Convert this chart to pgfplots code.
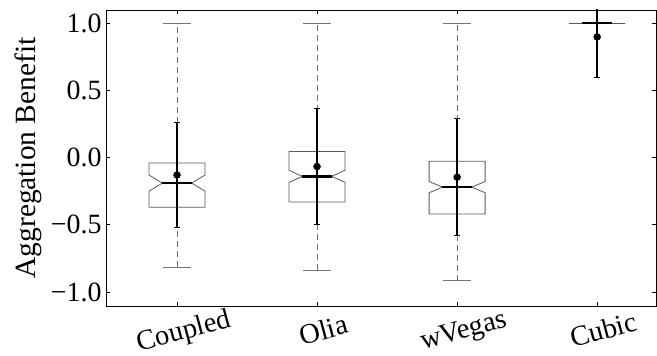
\documentclass[border=0pt]{standalone}
\usepackage{fontspec}
\setmainfont{Liberation Serif}
\usepackage{pgfplots}
\pgfplotsset{compat=1.18}
\definecolor{boxc}{gray}{0.35}
\definecolor{whc}{gray}{0.45}

% #1 x, #2 wlo, #3 q1, #4 med, #5 notch, #6 q3, #7 whi, #8 mean, #9 err
\newcommand{\nbox}[9]{%
 \addplot[whc, line width=0.8bp, dash pattern=on 6bp off 4bp] coordinates {(#1,#6) (#1,#7)};
 \addplot[whc, line width=0.8bp, dash pattern=on 6bp off 4bp] coordinates {(#1,#2) (#1,#3)};
 \addplot[whc, line width=1bp] coordinates {(#1-0.1,#7) (#1+0.1,#7)};
 \addplot[whc, line width=1bp] coordinates {(#1-0.1,#2) (#1+0.1,#2)};
 \addplot[boxc, line width=0.8bp] coordinates {(#1-0.2,#3) (#1+0.2,#3) (#1+0.2,#4-#5) (#1+0.105,#4) (#1+0.2,#4+#5) (#1+0.2,#6) (#1-0.2,#6) (#1-0.2,#4+#5) (#1-0.105,#4) (#1-0.2,#4-#5) (#1-0.2,#3)};
 \addplot[black, line width=2.6bp] coordinates {(#1-0.105,#4) (#1+0.105,#4)};
 \addplot[black, line width=1.6bp] coordinates {(#1,#8-#9) (#1,#8+#9)};
 \addplot[black, line width=1bp] coordinates {(#1-0.022,#8-#9) (#1+0.022,#8-#9)};
 \addplot[black, line width=1bp] coordinates {(#1-0.022,#8+#9) (#1+0.022,#8+#9)};
 \addplot[black, only marks, mark=*, mark size=3.5bp] coordinates {(#1,#8)};
}

\begin{document}
\begin{tikzpicture}
\begin{axis}[
  scale only axis,
  width=550bp, height=296bp,
  xmin=0.493, xmax=4.42,
  ymin=-1.104, ymax=1.097,
  xtick={1,2,3,4},
  xticklabels={Coupled,Olia,wVegas,Cubic},
  ytick={-1,-0.5,0,0.5,1},
  yticklabels={−1.0,−0.5,0.0,0.5,1.0},
  tick pos=both, tick align=inside,
  major tick length=4bp,
  tick style={black, line width=0.6bp},
  axis line style={line width=0.8bp},
  xticklabel style={font=\fontsize{28.5}{30}\selectfont, rotate=15, anchor=north, yshift=-11bp},
  yticklabel style={font=\fontsize{28}{30}\selectfont, xshift=-1bp},
  ylabel={Aggregation Benefit},
  ylabel style={font=\fontsize{29.5}{30}\selectfont},
  ylabel shift=2bp,
  clip=true,
]
\coordinate (ll) at (rel axis cs:0,0);
\coordinate (ur) at (rel axis cs:1,1);
\nbox{1}{-0.815}{-0.37}{-0.19}{0.06}{-0.04}{1.0}{-0.13}{0.39}
\nbox{2}{-0.84}{-0.33}{-0.14}{0.045}{0.045}{1.0}{-0.067}{0.428}
\nbox{3}{-0.915}{-0.42}{-0.22}{0.042}{-0.027}{1.0}{-0.146}{0.436}
\nbox{4}{1.0}{1.0}{1.0}{0.0}{1.0}{1.0}{0.897}{0.303}
\end{axis}
\pgfresetboundingbox
\path[use as bounding box] ([xshift=-106bp,yshift=-50bp]ll) rectangle ([xshift=1bp,yshift=10bp]ur);
\end{tikzpicture}
\end{document}
